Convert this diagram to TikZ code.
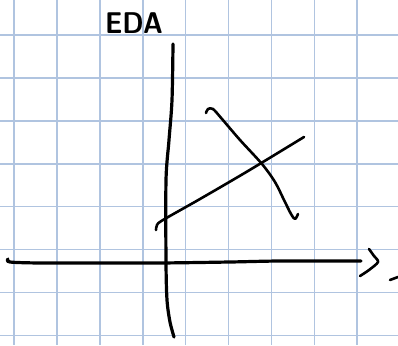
\documentclass[tikz,border=0pt]{standalone}
\usepackage{tikz}
\usetikzlibrary{positioning}

\definecolor{gridblue}{RGB}{176,196,224}

\begin{document}
\begin{tikzpicture}[x=1pt,y=-1pt,
   paper/.style={draw=gridblue,line width=1.6pt},
   pen/.style={draw=black,line width=2.6pt,line cap=round,line join=round},
   axis/.style={pen,line width=3.2pt},
   lab/.style={font=\sffamily\bfseries\fontsize{30}{30}\selectfont,inner sep=0pt,xscale=0.9}]
  \useasboundingbox (0,0) rectangle (398,345);
  \fill[white] (0,0) rectangle (398,345);
  % graph paper
  \foreach \i in {0,...,8}
    \draw[paper] (14+42.9*\i,0) -- (14+42.9*\i,345);
  \foreach \j in {0,...,7}
    \draw[paper] (0,35+42.9*\j) -- (398,35+42.9*\j);
  % axes
  \draw[axis] plot[smooth] coordinates {(173,44) (172,100) (169,140) (166,180) (166,262) (167,300) (170,322) (174,337)};
  \draw[axis] plot[smooth] coordinates {(8,259) (10,262) (40,263) (100,263) (160,263) (230,262) (280,261) (361,261)};
  \draw[pen] plot[smooth] coordinates {(369,249) (374,256) (378,262) (369,270) (360,276)};
  \draw[pen] (390,280) -- (398,277);
  % the two lines
  \draw[pen] plot[smooth] coordinates {(156,230) (157,225) (163,220) (200,199) (248,171) (304,137)};
  \draw[pen] plot[smooth] coordinates {(206,113) (208,109) (213,109) (222,119) (240,140) (262,164) (275,182) (284,200) (291,214) (295,219) (298,214)};
  % title
  \node[lab] (title) at (134,23) {EDA};
\end{tikzpicture}
\end{document}
